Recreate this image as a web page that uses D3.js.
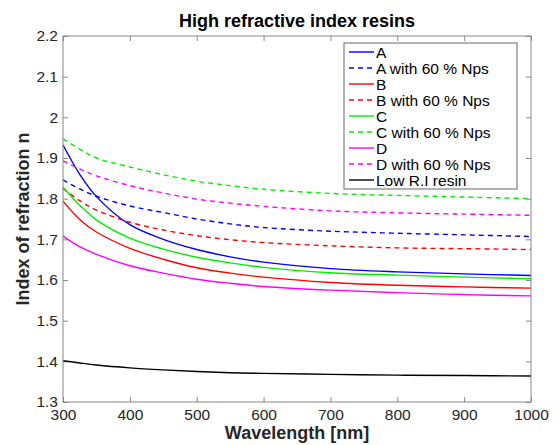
<!DOCTYPE html>
<html>
<head>
<meta charset="utf-8">
<script src="https://cdn.jsdelivr.net/npm/d3@7"></script>
<style>
  body { margin: 0; background: #fff; }
  svg { font-family: "Liberation Sans", Arial, sans-serif; }
</style>
</head>
<body>
<script>
// wavelengths sampled (nm)
var wavelengths = [300, 325, 350, 400, 450, 500, 550, 600, 700, 800, 900, 1000];

// refractive index values
var nA   = [1.932, 1.860, 1.805, 1.736, 1.700, 1.675, 1.657, 1.644, 1.628, 1.620, 1.615, 1.611];
var nA60 = [1.846, 1.824, 1.806, 1.782, 1.766, 1.750, 1.738, 1.729, 1.720, 1.715, 1.711, 1.707];
var nB   = [1.794, 1.749, 1.718, 1.678, 1.651, 1.630, 1.617, 1.607, 1.594, 1.587, 1.583, 1.580];
var nB60 = [1.825, 1.795, 1.772, 1.742, 1.723, 1.709, 1.699, 1.692, 1.684, 1.679, 1.677, 1.675];
var nC   = [1.828, 1.784, 1.748, 1.703, 1.676, 1.656, 1.642, 1.631, 1.618, 1.612, 1.607, 1.603];
var nC60 = [1.947, 1.922, 1.900, 1.878, 1.859, 1.843, 1.832, 1.823, 1.813, 1.808, 1.804, 1.800];
var nD   = [1.708, 1.682, 1.663, 1.635, 1.617, 1.602, 1.592, 1.584, 1.575, 1.569, 1.564, 1.561];
var nD60 = [1.893, 1.873, 1.856, 1.832, 1.814, 1.799, 1.789, 1.781, 1.770, 1.765, 1.762, 1.759];
var nLow = [1.4015, 1.396, 1.391, 1.384, 1.379, 1.375, 1.372, 1.3705, 1.368, 1.366, 1.365, 1.364];

var seriesNames = ['A', 'A with 60 % Nps', 'B', 'B with 60 % Nps', 'C', 'C with 60 % Nps',
                   'D', 'D with 60 % Nps', 'Low R.I resin'];
var seriesValues = [nA, nA60, nB, nB60, nC, nC60, nD, nD60, nLow];
var seriesColors = ['#0000ff', '#0000ff', '#ff0000', '#ff0000', '#00ee00', '#00ee00',
                    '#ff00ff', '#ff00ff', '#000000'];
var seriesDashed = [false, true, false, true, false, true, false, true, false];

var xTicks = [300, 400, 500, 600, 700, 800, 900, 1000];
var yTicks = [1.3, 1.4, 1.5, 1.6, 1.7, 1.8, 1.9, 2, 2.1, 2.2];

var width = 559, height = 445;
var margin = {left: 63, right: 28, top: 36, bottom: 43};
var plotW = width - margin.left - margin.right,
    plotH = height - margin.top - margin.bottom;

var svg = d3.select('body').append('svg')
  .attr('width', width)
  .attr('height', height);

var x = d3.scaleLinear().domain([300, 1000]).range([0, plotW]);
var y = d3.scaleLinear().domain([1.3, 2.2]).range([plotH, 0]);

var g = svg.append('g')
  .attr('transform', 'translate(' + margin.left + ',' + margin.top + ')');

// axes, matlab style: inward ticks on all four sides
var axisColor = '#888';
var labelColor = '#262626';

function styleAxis(sel, showText) {
  sel.select('.domain').remove();
  sel.selectAll('line').attr('stroke', axisColor);
  sel.selectAll('text')
    .attr('fill', labelColor)
    .style('font-size', '15.5px')
    .style('display', showText ? null : 'none');
}

g.append('g')
  .attr('transform', 'translate(0,' + plotH + ')')
  .call(d3.axisBottom(x).tickValues(xTicks).tickSizeInner(-5).tickSizeOuter(0).tickPadding(7).tickFormat(d3.format('d')))
  .call(styleAxis, true);

g.append('g')
  .call(d3.axisTop(x).tickValues(xTicks).tickSizeInner(-5).tickSizeOuter(0))
  .call(styleAxis, false);

g.append('g')
  .call(d3.axisLeft(y).tickValues(yTicks).tickSizeInner(-5).tickSizeOuter(0).tickPadding(5).tickFormat(function(d) { return d3.format('~g')(d); }))
  .call(styleAxis, true);

g.append('g')
  .attr('transform', 'translate(' + plotW + ',0)')
  .call(d3.axisRight(y).tickValues(yTicks).tickSizeInner(-5).tickSizeOuter(0))
  .call(styleAxis, false);

// lines
var line = d3.line()
  .x(function(d) { return x(d[0]); })
  .y(function(d) { return y(d[1]); })
  .curve(d3.curveCatmullRom.alpha(0.5));

seriesValues.forEach(function(vals, i) {
  g.append('path')
    .datum(wavelengths.map(function(w, j) { return [w, vals[j]]; }))
    .attr('d', line)
    .attr('fill', 'none')
    .attr('stroke', seriesColors[i])
    .attr('stroke-width', 1.4)
    .attr('stroke-dasharray', seriesDashed[i] ? '5,4' : null);
});

// box
g.append('rect')
  .attr('width', plotW)
  .attr('height', plotH)
  .attr('fill', 'none')
  .attr('stroke', axisColor)
  .attr('stroke-width', 1);

// legend
var legend = svg.append('g').attr('transform', 'translate(344,43)');
legend.append('rect')
  .attr('width', 173)
  .attr('height', 146)
  .attr('fill', '#fff')
  .attr('stroke', '#666')
  .attr('stroke-width', 1);

seriesNames.forEach(function(name, i) {
  var ly = 9 + i * 16;
  legend.append('line')
    .attr('x1', 5).attr('x2', 30)
    .attr('y1', ly).attr('y2', ly)
    .attr('stroke', seriesColors[i])
    .attr('stroke-width', 1.4)
    .attr('stroke-dasharray', seriesDashed[i] ? '5,4' : null);
  legend.append('text')
    .attr('x', 32)
    .attr('y', ly + 5.5)
    .attr('fill', '#000')
    .style('font-size', '15.5px')
    .text(name);
});

// title and axis labels
svg.append('text')
  .attr('x', margin.left + plotW / 2)
  .attr('y', 27)
  .attr('text-anchor', 'middle')
  .style('font-size', '18px')
  .style('font-weight', 'bold')
  .text('High refractive index resins');

svg.append('text')
  .attr('x', margin.left + plotW / 2)
  .attr('y', 439)
  .attr('text-anchor', 'middle')
  .attr('fill', labelColor)
  .style('font-size', '18px')
  .style('font-weight', 'bold')
  .text('Wavelength [nm]');

svg.append('text')
  .attr('transform', 'translate(29,' + (margin.top + plotH / 2) + ') rotate(-90)')
  .attr('text-anchor', 'middle')
  .attr('fill', labelColor)
  .style('font-size', '18px')
  .style('font-weight', 'bold')
  .text('Index of refraction n');
</script>
</body>
</html>
